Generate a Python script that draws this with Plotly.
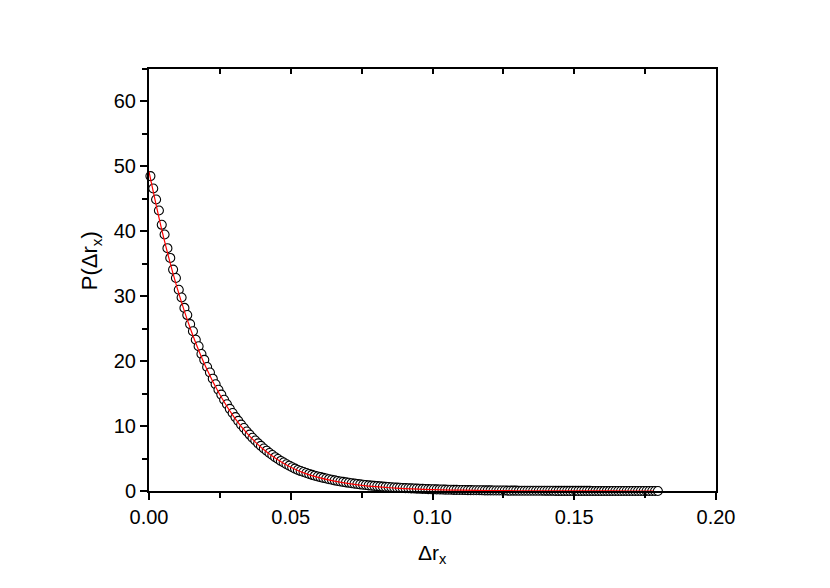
import plotly.graph_objects as go

# measured points (Delta r_x bin centres, P)
dr_x = [0.0005 + 0.001 * i for i in range(180)]
p_data = [
    48.50, 46.60, 44.90, 43.20, 41.00, 39.50, 37.40, 35.90, 34.10, 32.80,
    31.00, 29.80, 28.20, 27.10, 25.70, 24.60, 23.30, 22.30, 21.10, 20.20,
    19.10, 18.25, 17.30, 16.45, 15.60, 14.85, 14.05, 13.37, 12.65, 12.02,
    11.38, 10.80, 10.22, 9.70, 9.16, 8.69, 8.20, 7.78, 7.34, 6.95,
    6.55, 6.21, 5.85, 5.54, 5.21, 4.93, 4.63, 4.39, 4.12, 3.90,
    3.65, 3.45, 3.24, 3.07, 2.92, 2.77, 2.63, 2.49, 2.36, 2.24,
    2.13, 2.02, 1.92, 1.82, 1.73, 1.64, 1.55, 1.47, 1.40, 1.33,
    1.26, 1.19, 1.13, 1.08, 1.02, 0.97, 0.92, 0.87, 0.83, 0.79,
    0.75, 0.71, 0.67, 0.64, 0.61, 0.58, 0.55, 0.52, 0.49, 0.47,
    0.44, 0.42, 0.40, 0.38, 0.36, 0.34, 0.32, 0.31, 0.29, 0.28,
    0.26, 0.25, 0.24, 0.22, 0.21, 0.20, 0.19, 0.18, 0.17, 0.16,
    0.15, 0.145, 0.14, 0.13, 0.12, 0.115, 0.11, 0.105, 0.10, 0.095,
    0.09, 0.085, 0.08, 0.075, 0.07, 0.07, 0.065, 0.06, 0.06, 0.055,
    0.05, 0.05, 0.045, 0.045, 0.04, 0.04, 0.04, 0.035, 0.035, 0.03,
    0.03, 0.03, 0.03, 0.025, 0.025, 0.025, 0.02, 0.02, 0.02, 0.02,
    0.02, 0.015, 0.015, 0.015, 0.015, 0.015, 0.01, 0.01, 0.01, 0.01,
    0.01, 0.01, 0.01, 0.01, 0.008, 0.008, 0.008, 0.006, 0.006, 0.006,
    0.005, 0.005, 0.005, 0.004, 0.004, 0.004, 0.003, 0.003, 0.003, 0.002,
]

# fitted curve
fit_x = [0.0, 0.005, 0.01, 0.015, 0.02, 0.025, 0.03, 0.035, 0.04, 0.045,
         0.05, 0.055, 0.06, 0.065, 0.07, 0.075, 0.08, 0.085, 0.09, 0.095,
         0.1, 0.11, 0.12, 0.13, 0.14, 0.15, 0.16, 0.17, 0.178]
fit_y = [49.2, 39.33, 31.18, 24.53, 19.14, 14.82, 11.38, 8.67, 6.55, 4.91,
         3.65, 2.72, 2.05, 1.55, 1.17, 0.88, 0.66, 0.50, 0.38, 0.28,
         0.21, 0.12, 0.07, 0.04, 0.02, 0.01, 0.01, 0.0, 0.0]

FONT = "Liberation Sans, Arial, sans-serif"

fig = go.Figure()

fig.add_trace(go.Scatter(
    x=dr_x, y=p_data,
    mode="markers",
    marker=dict(symbol="circle", size=9, color="white",
                line=dict(color="black", width=1.1)),
    cliponaxis=False,
    showlegend=False,
))

fig.add_trace(go.Scatter(
    x=fit_x, y=fit_y,
    mode="lines",
    line=dict(color="red", width=1.2, shape="spline"),
    showlegend=False,
))

# dummy trace so the top axis gets drawn
fig.add_trace(go.Scatter(x=[0.1], y=[30], xaxis="x2", mode="markers",
                         marker=dict(opacity=0), hoverinfo="skip",
                         showlegend=False))

# page body adds ~7px offset, margins compensate for it
fig.update_layout(
    width=830, height=588,
    margin=dict(l=141, r=122, t=61, b=105),
    plot_bgcolor="white",
    paper_bgcolor="white",
    font=dict(family=FONT, size=20, color="black"),
    xaxis=dict(
        range=[0, 0.2], automargin=False,
        dtick=0.05, tickformat=".2f",
        ticks="outside", ticklen=7, tickwidth=1.5, tickcolor="black",
        minor=dict(dtick=0.025, ticks="outside", ticklen=5, tickwidth=1.5,
                   tickcolor="black"),
        showline=True, linecolor="black", linewidth=2,
        showgrid=False, zeroline=False,
    ),
    xaxis2=dict(
        overlaying="x", side="top", matches="x", automargin=False,
        range=[0, 0.2], dtick=0.025,
        ticks="inside", ticklen=5, tickwidth=1.5, tickcolor="black",
        showticklabels=False, showline=True, linecolor="black", linewidth=2,
        showgrid=False, zeroline=False,
    ),
    yaxis=dict(
        range=[0, 65], automargin=False,
        dtick=10,
        ticks="outside", ticklen=7, tickwidth=1.5, tickcolor="black",
        minor=dict(dtick=5, ticks="outside", ticklen=5, tickwidth=1.5,
                   tickcolor="black"),
        showline=True, linecolor="black", linewidth=2, mirror=True,
        showgrid=False, zeroline=False,
    ),
    annotations=[
        dict(text="Δr<sub>x</sub>", xref="paper", yref="paper",
             x=0.5, y=-0.15, xanchor="center", yanchor="middle",
             showarrow=False, font=dict(size=21)),
        dict(text="P(Δr<sub>x</sub>)", xref="paper", yref="paper",
             x=-0.102, y=0.545, xanchor="center", yanchor="middle",
             textangle=-90, showarrow=False, font=dict(size=22)),
    ],
)

fig.write_html("out.html")
